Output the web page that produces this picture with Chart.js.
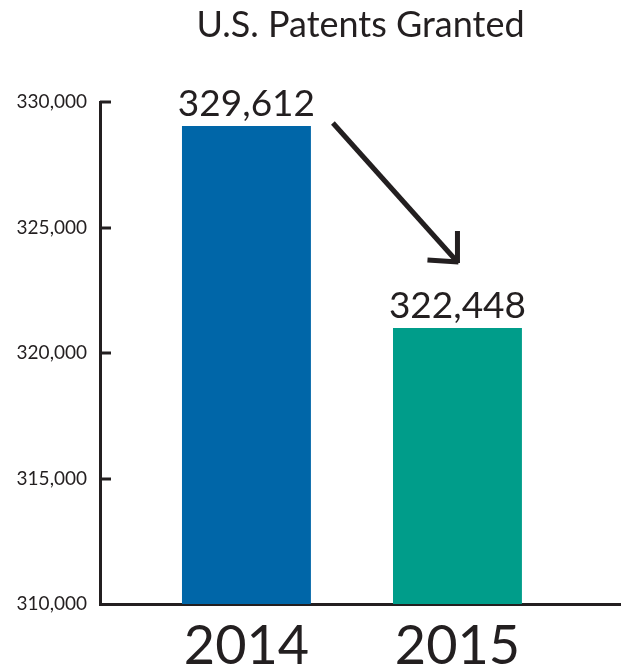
<!DOCTYPE html>
<html>
<head>
<meta charset="utf-8">
<script src="https://cdn.jsdelivr.net/npm/chart.js@4/dist/chart.umd.min.js"></script>
<style>
  html, body { margin: 0; padding: 0; background: #fff; }
  canvas { display: block; }
</style>
</head>
<body>
<canvas id="patentsCanvas" width="621" height="669"></canvas>
<script>
const years = [2014, 2015];
const barValues = [329050, 321000];          // bar heights as drawn
const valueLabels = ['329,612', '322,448'];  // numbers printed over the bars
const barColors = ['#0066a8', '#009d8a'];
const yTicks = [310000, 315000, 320000, 325000, 330000];

const ink = '#231f20';
const fontFamily = 'Lato, "Open Sans", sans-serif';

const canvas = document.getElementById('patentsCanvas');

// numbers above bars, inward tick marks, and the down arrow
const decorations = {
    id: 'decorations',
    afterDraw(chart) {
        const ctx = chart.ctx;
        const area = chart.chartArea;
        const yScale = chart.scales.y;
        const bars = chart.getDatasetMeta(0).data;

        ctx.save();
        ctx.strokeStyle = ink;
        ctx.lineWidth = 3;
        yScale.ticks.forEach((t) => {
            if (t.value === yScale.min) return;
            const py = Math.round(yScale.getPixelForValue(t.value));
            ctx.beginPath();
            ctx.moveTo(area.left, py);
            ctx.lineTo(area.left + 11, py);
            ctx.stroke();
        });

        ctx.fillStyle = ink;
        ctx.font = '37px ' + fontFamily;
        ctx.textAlign = 'center';
        ctx.textBaseline = 'alphabetic';
        bars.forEach((bar, i) => {
            ctx.fillText(valueLabels[i], bar.x, bar.y - 10);
        });

        // arrow from the first bar down toward the second
        const b1 = bars[0], b2 = bars[1];
        const x0 = b1.x + b1.width / 2 + 22, y0 = b1.y - 3;
        const x1 = b2.x, y1 = b2.y - 66;
        ctx.lineWidth = 5;
        ctx.lineCap = 'butt';
        ctx.beginPath();
        ctx.moveTo(x0, y0);
        ctx.lineTo(x1, y1);
        ctx.stroke();
        ctx.beginPath();
        ctx.moveTo(x1, y1 - 31);
        ctx.lineTo(x1, y1 + 1);
        ctx.moveTo(x1 + 1, y1);
        ctx.lineTo(x1 - 30, y1 - 2);
        ctx.stroke();
        ctx.restore();
    }
};

const patentsChart = new Chart(canvas, {
    type: 'bar',
    data: {
        datasets: [{
            data: years.map((y, i) => ({ x: y, y: barValues[i] })),
            backgroundColor: barColors,
            borderWidth: 0,
            barPercentage: 0.611,
            categoryPercentage: 1
        }]
    },
    options: {
        responsive: false,
        animation: false,
        layout: { padding: 0 },
        plugins: {
            legend: { display: false },
            tooltip: { enabled: false },
            title: {
                display: true,
                text: 'U.S. Patents Granted',
                fullSize: false,
                color: ink,
                font: { family: fontFamily, size: 36, weight: 'normal' },
                padding: { top: 4, bottom: 55 }
            }
        },
        scales: {
            x: {
                type: 'linear',
                offset: false,
                min: years[0] - 0.694,
                max: years[1] + 0.775,
                grid: { display: false, drawTicks: false, offset: false },
                border: { display: true, color: ink, width: 3 },
                afterBuildTicks: (scale) => {
                    scale.ticks = years.map((v) => ({ value: v }));
                },
                afterFit: (scale) => { scale.height = 65; },
                ticks: {
                    color: ink,
                    padding: 10,
                    font: { family: fontFamily, size: 54 },
                    callback: (v) => String(v)
                }
            },
            y: {
                min: yTicks[0],
                max: yTicks[yTicks.length - 1],
                grid: { display: false, drawTicks: false },
                border: { display: true, color: ink, width: 3 },
                afterBuildTicks: (scale) => {
                    scale.ticks = yTicks.map((v) => ({ value: v }));
                },
                afterFit: (scale) => { scale.width = 100; },
                ticks: {
                    color: ink,
                    padding: 13,
                    font: { family: fontFamily, size: 19 },
                    callback: (v) => v.toLocaleString('en-US')
                }
            }
        }
    },
    plugins: [decorations]
});
</script>
</body>
</html>
